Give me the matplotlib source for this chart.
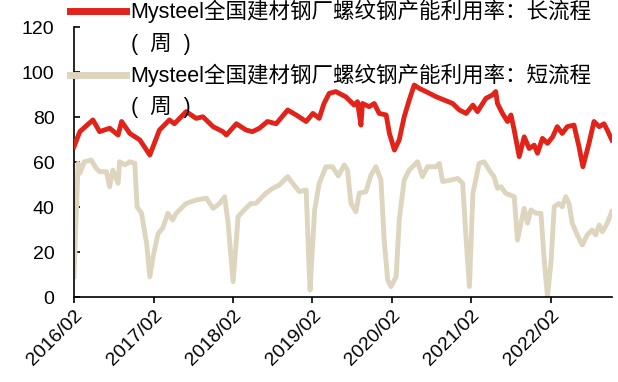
import matplotlib
matplotlib.use("Agg")
import matplotlib.pyplot as plt
from matplotlib.lines import Line2D
import pandas as pd

plt.rcParams['font.family'] = ['Liberation Sans', 'Noto Sans CJK SC', 'DejaVu Sans']

# 长流程 (red)
long_dates = [
    "2016-02-01", "2016-02-28", "2016-04-28", "2016-05-29", "2016-07-14", "2016-08-22",
    "2016-09-07", "2016-10-15", "2016-11-30", "2017-01-15", "2017-02-28", "2017-04-15",
    "2017-05-08", "2017-07-01", "2017-08-16", "2017-09-16", "2017-11-02", "2017-12-17",
    "2018-01-02", "2018-02-17", "2018-04-03", "2018-05-02", "2018-06-03", "2018-07-10",
    "2018-08-19", "2018-10-11", "2018-11-19", "2019-01-04", "2019-02-04", "2019-03-05",
    "2019-03-27", "2019-04-20", "2019-05-20", "2019-07-05", "2019-08-13", "2019-08-28",
    "2019-09-13", "2019-09-20", "2019-10-21", "2019-11-13", "2019-12-06", "2020-01-07",
    "2020-01-22", "2020-02-14", "2020-03-07", "2020-03-30", "2020-04-22", "2020-05-15",
    "2020-06-08", "2020-07-08", "2020-08-24", "2020-10-01", "2020-11-08", "2020-12-09",
    "2021-01-09", "2021-02-09", "2021-03-02", "2021-04-10", "2021-05-10", "2021-05-25",
    "2021-06-02", "2021-06-25", "2021-07-18", "2021-08-03", "2021-08-18", "2021-09-10",
    "2021-10-03", "2021-10-26", "2021-11-18", "2021-12-03", "2021-12-26", "2022-01-18",
    "2022-02-11", "2022-03-04", "2022-03-27", "2022-04-19", "2022-05-20", "2022-06-12",
    "2022-06-30", "2022-07-28", "2022-08-20", "2022-09-13", "2022-10-05", "2022-10-20",
    "2022-11-10",
]
long_vals = [
    66.8, 73.5, 78.7, 73.5, 75.0, 72.0,
    78.0, 72.7, 69.8, 63.1, 74.2, 78.7,
    77.0, 82.4, 79.4, 80.1, 75.7, 73.5,
    72.0, 77.0, 74.2, 73.5, 75.0, 78.0,
    77.0, 83.1, 80.9, 78.0, 81.6, 79.4,
    86.0, 90.5, 91.3, 89.0, 85.3, 86.8,
    76.4, 86.0, 84.6, 86.0, 81.6, 80.9,
    72.7, 65.3, 69.8, 80.1, 87.5, 94.2,
    92.7, 91.3, 89.0, 87.5, 86.0, 83.1,
    81.6, 85.3, 82.4, 88.3, 89.8, 91.3,
    86.0, 81.6, 78.0, 80.9, 74.2, 62.4,
    71.2, 66.0, 67.5, 63.9, 70.5, 68.3,
    71.2, 75.7, 72.7, 75.7, 76.4, 66.8,
    57.9, 68.3, 78.0, 75.7, 77.0, 74.2,
    69.8,
]

# 短流程 (beige)
short_dates = [
    "2016-02-01", "2016-02-20", "2016-02-28", "2016-03-20", "2016-04-20", "2016-05-13",
    "2016-05-29", "2016-06-29", "2016-07-14", "2016-07-29", "2016-08-22", "2016-08-29",
    "2016-09-22", "2016-10-15", "2016-11-07", "2016-11-17", "2016-12-08", "2016-12-31",
    "2017-01-15", "2017-01-30", "2017-02-22", "2017-03-15", "2017-04-08", "2017-04-30",
    "2017-05-16", "2017-07-01", "2017-08-16", "2017-10-02", "2017-11-02", "2017-12-02",
    "2017-12-25", "2018-01-10", "2018-02-02", "2018-02-25", "2018-03-25", "2018-04-25",
    "2018-05-18", "2018-06-10", "2018-07-03", "2018-08-03", "2018-09-03", "2018-10-11",
    "2018-11-03", "2018-12-04", "2019-01-04", "2019-01-16", "2019-01-22", "2019-02-12",
    "2019-03-05", "2019-04-05", "2019-05-05", "2019-06-01", "2019-06-28", "2019-07-13",
    "2019-07-29", "2019-08-21", "2019-09-05", "2019-10-06", "2019-10-29", "2019-11-21",
    "2019-12-14", "2019-12-29", "2020-01-14", "2020-01-29", "2020-02-22", "2020-03-07",
    "2020-03-30", "2020-04-22", "2020-05-30", "2020-06-22", "2020-07-15", "2020-08-24",
    "2020-09-08", "2020-09-23", "2020-11-01", "2020-12-01", "2020-12-24", "2021-01-09",
    "2021-01-24", "2021-02-09", "2021-03-02", "2021-03-09", "2021-04-02", "2021-04-25",
    "2021-05-17", "2021-06-02", "2021-06-18", "2021-07-10", "2021-08-18", "2021-09-02",
    "2021-09-18", "2021-10-03", "2021-10-18", "2021-11-03", "2021-11-26", "2021-12-19",
    "2022-01-03", "2022-01-18", "2022-02-04", "2022-02-18", "2022-03-12", "2022-03-27",
    "2022-04-12", "2022-04-27", "2022-05-12", "2022-06-04", "2022-06-27", "2022-07-20",
    "2022-08-12", "2022-08-28", "2022-09-13", "2022-09-28", "2022-10-20", "2022-11-10",
]
short_vals = [
    9.0, 59.4, 55.0, 60.1, 60.9, 57.2,
    55.7, 55.7, 49.0, 56.4, 50.5, 60.1,
    58.7, 60.1, 59.4, 40.1, 37.2, 23.8,
    9.0, 17.9, 28.3, 30.5, 37.2, 34.2,
    37.2, 41.6, 43.1, 43.9, 39.4, 41.6,
    44.6, 32.8, 6.8, 35.7, 38.7, 41.6,
    41.6, 43.9, 46.1, 48.3, 49.8, 53.5,
    50.5, 46.8, 47.6, 16.4, 3.1, 38.7,
    50.5, 57.9, 57.9, 53.8, 58.7, 56.4,
    41.6, 37.9, 46.1, 46.8, 54.2, 57.9,
    52.0, 25.3, 7.6, 4.6, 9.0, 34.2,
    52.0, 56.4, 60.1, 53.5, 57.9, 57.9,
    59.4, 51.3, 52.0, 52.7, 50.5, 25.3,
    4.6, 46.1, 55.7, 59.4, 60.1, 56.4,
    53.5, 48.3, 49.0, 46.1, 44.6, 25.3,
    32.8, 39.4, 32.8, 38.7, 37.2, 37.2,
    16.4, 0.1, 16.4, 40.1, 41.6, 40.1,
    44.6, 41.6, 32.8, 27.6, 23.1, 27.6,
    29.8, 27.6, 32.0, 29.0, 32.8, 37.9,
]

labels = ["Mysteel全国建材钢厂螺纹钢产能利用率：长流程",
          "Mysteel全国建材钢厂螺纹钢产能利用率：短流程"]
freq_label = "(  周  )"
tick_dates = ["2016-02-01", "2017-02-01", "2018-02-01", "2019-02-01",
              "2020-02-01", "2021-02-01", "2022-02-01"]
tick_labels = ["2016/02", "2017/02", "2018/02", "2019/02", "2020/02", "2021/02", "2022/02"]

red = "#E2231A"
beige = "#DED5BF"

fig = plt.figure(figsize=(6.18, 3.82), dpi=100)
ax = fig.add_axes([0.1197, 0.2225, 0.871, 0.7068])

ax.plot(pd.to_datetime(long_dates), long_vals, color=red, lw=3.5,
        zorder=3, solid_joinstyle="round")
ax.plot(pd.to_datetime(short_dates), short_vals, color=beige, lw=3.5,
        zorder=2, solid_joinstyle="round")

ax.set_ylim(0, 120)
ax.set_yticks(range(0, 121, 20))
ax.set_xlim(pd.Timestamp("2016-02-01"), pd.Timestamp("2022-11-12"))
ax.set_xticks(pd.to_datetime(tick_dates))
ax.set_xticklabels(tick_labels, rotation=45, ha="right", rotation_mode="anchor")

for s in ["top", "right"]:
    ax.spines[s].set_visible(False)
ax.spines["left"].set_linewidth(1.2)
ax.spines["bottom"].set_linewidth(1.2)
ax.tick_params(axis="y", direction="in", length=4, width=1.2, labelsize=14, pad=14)
ax.tick_params(axis="x", direction="out", length=4, width=1.2, labelsize=14, pad=3)

# legend: each label wraps to a second line "(周)"
handles = [Line2D([], [], color=red, lw=5), Line2D([], [], color="none"),
           Line2D([], [], color=beige, lw=5), Line2D([], [], color="none")]
leg_labels = [labels[0], freq_label, labels[1], freq_label]
fig.legend(handles, leg_labels, loc="upper left", bbox_to_anchor=(0.114, 1.0),
           frameon=False, fontsize=15.5, handlelength=2.6, handletextpad=0.2,
           labelspacing=0.43, borderpad=0, borderaxespad=0)

fig.savefig("out.png", dpi=100)
